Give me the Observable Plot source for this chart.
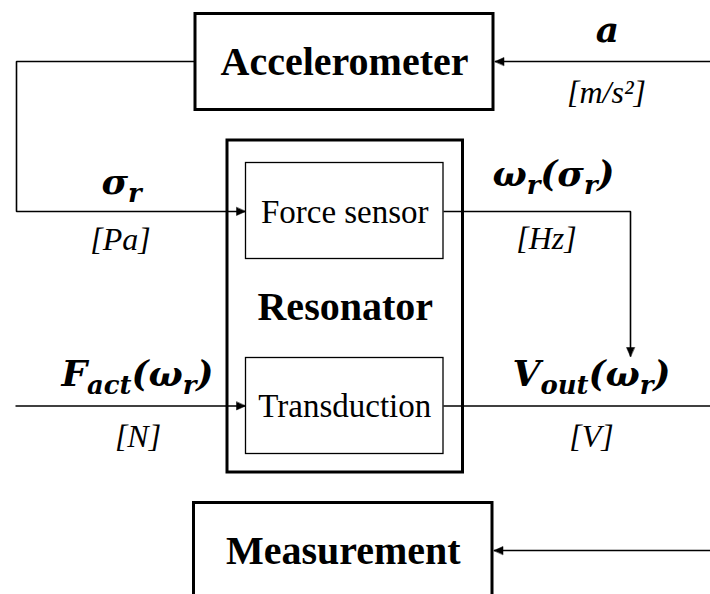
<!DOCTYPE html>
<html><head><meta charset="utf-8">
<script src="https://cdn.jsdelivr.net/npm/d3@7"></script>
<script src="https://cdn.jsdelivr.net/npm/@observablehq/plot@0.6"></script>
<style>html,body{margin:0;padding:0;background:#fff;overflow:hidden;}</style>
</head><body><div id="chart"></div>
<script>
// ---- diagram data (positions in picture pixels) ----
const boxNames = ["Accelerometer", "Resonator", "Force sensor", "Transduction", "Measurement"];
const boxKind  = ["block", "block", "sub", "sub", "block"];
const boxX1 = [195, 227, 245.5, 245.5, 193.5];
const boxX2 = [493, 462.5, 443, 443, 492];
const boxY1 = [13.5, 140, 162.5, 357.5, 502.5];
const boxY2 = [109.5, 472, 258.5, 453.5, 600];
const boxTextY = [74, 319, 222, 416.5, 563];

// connectors: polylines [x,y] and whether they end with an arrow head
const connectorIds = ["a", "sigma", "omega", "fact", "vout", "meas"];
const connectorPts = [
  [[710, 61], [494.5, 61]],
  [[195, 61], [16, 61], [16, 211], [245, 211]],
  [[443, 211], [630, 211], [630, 356]],
  [[15, 405.5], [245, 405.5]],
  [[443, 405.5], [710, 405.5]],
  [[710, 550], [493.5, 550]]
];
const connectorArrow = [true, true, true, true, false, true];

// signal labels (math) and units
const signalText = ["a", "σ_{r}", "ω_{r}(σ_{r})", "F_{act}(ω_{r})", "V_{out}(ω_{r})"];
const signalX = [607, 121, 553, 137, 591];
const signalY = [41.5, 193, 185, 385, 385];
const unitText = ["[m/s²]", "[Pa]", "[Hz]", "[N]", "[V]"];
const unitX = [606, 120, 546, 137.5, 591];
const unitY = [102.5, 249, 248, 446, 446];

// ---- build tables ----
const boxes = boxNames.map((name, i) => ({name, kind: boxKind[i], x1: boxX1[i], x2: boxX2[i], y1: boxY1[i], y2: boxY2[i],
  cx: (boxX1[i] + boxX2[i]) / 2, ty: boxTextY[i]}));
const lines = connectorIds.flatMap((id, i) => connectorPts[i].map(([x, y]) => ({id, x, y})));
const HEAD_L = 9, HEAD_W = 4;
const heads = connectorIds.flatMap((id, i) => {
  if (!connectorArrow[i]) return [];
  const pts = connectorPts[i];
  const [px, py] = pts[pts.length - 2], [qx, qy] = pts[pts.length - 1];
  const len = Math.hypot(qx - px, qy - py), dx = (qx - px) / len, dy = (qy - py) / len;
  const bx = qx - dx * HEAD_L, by = qy - dy * HEAD_L;
  return [
    {id, x: qx, y: qy},
    {id, x: bx - dy * HEAD_W, y: by + dx * HEAD_W},
    {id, x: bx + dy * HEAD_W, y: by - dx * HEAD_W}
  ];
});
const signals = signalText.map((t, i) => ({t, x: signalX[i], y: signalY[i]}));
const units = unitText.map((t, i) => ({t, x: unitX[i], y: unitY[i]}));
const titled = boxes.filter(d => d.kind === "block");
const subs = boxes.filter(d => d.kind === "sub");

const serif = "Liberation Serif, Times New Roman, serif";
const mathFont = "DejaVu Serif, serif";

const svg = Plot.plot({
  width: 710, height: 594, margin: 0,
  x: {domain: [0, 710], range: [0, 710], axis: null},
  y: {domain: [0, 594], range: [0, 594], axis: null},
  style: {background: "white", overflow: "hidden"},
  marks: [
    Plot.rect(titled, {x1: "x1", x2: "x2", y1: "y1", y2: "y2", fill: "none", stroke: "black", strokeWidth: 3}),
    Plot.rect(subs, {x1: "x1", x2: "x2", y1: "y1", y2: "y2", fill: "none", stroke: "black", strokeWidth: 1.3}),
    Plot.line(lines, {x: "x", y: "y", z: "id", stroke: "black", strokeWidth: 1.6, strokeLinejoin: "miter", strokeLinecap: "butt", curve: "linear"}),
    Plot.line(heads, {x: "x", y: "y", z: "id", fill: "black", stroke: "black", strokeWidth: 0.5, curve: "linear-closed"}),
    Plot.text(titled, {x: "cx", y: "ty", text: "name", lineAnchor: "bottom", fontFamily: serif, fontSize: 40, fontWeight: "bold", fill: "black"}),
    Plot.text(subs, {x: "cx", y: "ty", text: "name", lineAnchor: "bottom", fontFamily: serif, fontSize: 33, fill: "black"}),
    Plot.text(signals, {x: "x", y: "y", text: "t", lineAnchor: "bottom", fontFamily: mathFont, fontSize: 36, fontWeight: "bold", fontStyle: "italic", fill: "black"}),
    Plot.text(units, {x: "x", y: "y", text: "t", lineAnchor: "bottom", fontFamily: serif, fontSize: 32, fontStyle: "italic", fill: "black"})
  ]
});

// format "_{...}" as subscripts
const SUB_DY = 8;
d3.select(svg).selectAll("text").each(function () {
  const s = this.textContent;
  if (!s.includes("_{")) return;
  const el = d3.select(this);
  el.text(null);
  const re = /_\{([^}]*)\}|([^_]+)/g;
  let m, shifted = false;
  while ((m = re.exec(s))) {
    if (m[1] !== undefined) {
      el.append("tspan").attr("font-size", "0.72em").attr("dy", shifted ? 0 : SUB_DY).text(m[1]);
      shifted = true;
    } else {
      el.append("tspan").attr("dy", shifted ? -SUB_DY : 0).text(m[2]);
      shifted = false;
    }
  }
});

document.getElementById("chart").appendChild(svg);
</script>
</body></html>
